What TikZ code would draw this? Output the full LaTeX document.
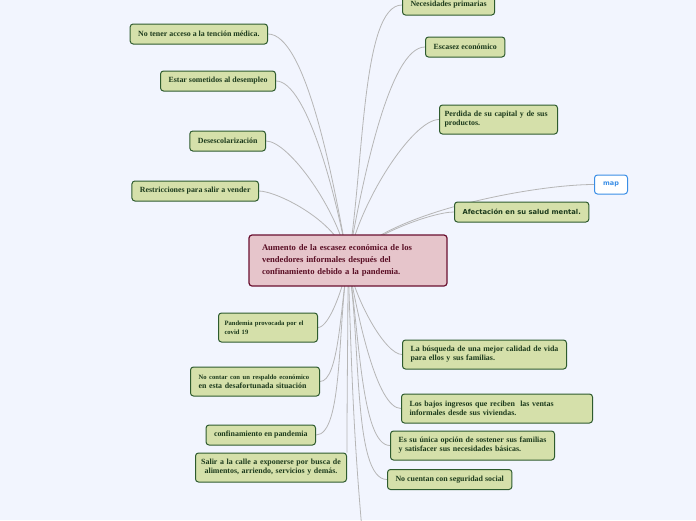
\documentclass[tikz,border=0pt]{standalone}
\usepackage{fontspec}
\setmainfont{Liberation Serif}
\newfontfamily\mmsans{DejaVu Sans}
\usetikzlibrary{backgrounds}

\definecolor{paper}{HTML}{F2F5FE}
\definecolor{leaffill}{HTML}{D5E0AA}
\definecolor{leafline}{HTML}{2E5B2E}
\definecolor{leaftext}{HTML}{1C3A1C}
\definecolor{rootfill}{HTML}{E6C5CB}
\definecolor{rootline}{HTML}{6A1030}
\definecolor{roottext}{HTML}{5A0F25}
\definecolor{linkgray}{HTML}{B6B6B6}
\definecolor{mapblue}{HTML}{3A8EE6}

\begin{document}
\begin{tikzpicture}[x=1pt, y=1pt,
        leaf/.style={rectangle, rounded corners=3pt, draw=leafline, fill=leaffill,
            line width=1pt, text=leaftext, font=\bfseries\fontsize{7.9}{9}\selectfont,
            inner xsep=8pt, inner ysep=2pt, minimum height=20pt, align=left},
        twoline/.style={minimum height=29pt},
        root/.style={rectangle, rounded corners=3pt, draw=rootline, fill=rootfill,
            line width=1.2pt, text=roottext, font=\bfseries\fontsize{8.6}{12}\selectfont,
            inner xsep=13pt, text width=172pt, minimum height=51pt, align=left},
        link/.style={draw=linkgray, line width=0.8pt},
        upleft/.style={out=100, in=0, out looseness=0.9, in looseness=0.4},
        upright/.style={out=80, in=180, out looseness=0.9, in looseness=0.4},
        downleft/.style={out=-100, in=0, out looseness=0.9, in looseness=0.4},
        downright/.style={out=-80, in=180, out looseness=0.9, in looseness=0.4},
    ]
    \useasboundingbox (0,0) rectangle (696,-520);
    \coordinate (hub) at (348,-262);
    \coordinate (below) at (362,-530);

    % central idea
    \node[root] (main) at (348,-260.5) {Aumento de la escasez económica de los\\
        vendedores informales después del\\ confinamiento debido a la pandemia.};

    % right side
    \node[leaf, anchor=west] (nec) at (402,-5) {Necesidades primarias};
    \node[leaf, anchor=west] (esc) at (425,-47) {Escasez económico};
    \node[leaf, twoline, anchor=west, text width=108pt, inner xsep=5pt] (per)
        at (439,-119.5) {Perdida de su capital y de sus\\ productos.};
    \node[rectangle, rounded corners=3pt, draw=mapblue, fill=white, line width=1pt,
        text=mapblue, font=\mmsans\bfseries\fontsize{6.5}{8}\selectfont,
        minimum width=33pt, minimum height=19pt, anchor=west] (map) at (594,-184.5) {map};
    \node[leaf, anchor=west, font=\mmsans\bfseries\fontsize{6.8}{8}\selectfont] (afe)
        at (454,-212) {Afectación en su salud mental.};
    \node[leaf, twoline, anchor=west, text width=148pt] (busq) at (402,-354.5)
        {La búsqueda de una mejor calidad de vida\\ para ellos y sus familias.};
    \node[leaf, twoline, anchor=west, text width=175pt] (bajos) at (401,-408.5)
        {Los bajos ingresos que reciben\ \ las ventas\\ informales desde sus viviendas.};
    \node[leaf, twoline, anchor=west, text width=148pt] (unica) at (390,-445.5)
        {Es su única opción de sostener sus familias\\ y satisfacer sus necesidades básicas.};
    \node[leaf, anchor=west] (seg) at (387,-479.5) {No cuentan con seguridad social};

    % left side
    \node[leaf, anchor=east] (tenc) at (268,-34) {No tener acceso a la tención médica.};
    \node[leaf, anchor=east] (desem) at (276,-81) {Estar sometidos al desempleo};
    \node[leaf, anchor=east] (deses) at (266,-141) {Desescolarización};
    \node[leaf, anchor=east] (restr) at (259,-191) {Restricciones para salir a vender};
    \node[leaf, twoline, anchor=east, text width=87pt, inner xsep=6pt,
        font=\bfseries\fontsize{6.6}{9}\selectfont] (pand) at (318,-327.5)
        {Pandemia provocada por el\\ covid 19};
    \node[leaf, twoline, anchor=east, text width=113pt] (resp) at (320,-381.5)
        {{\fontsize{6.6}{9}\selectfont No contar con un respaldo económico}\\
        en esta desafortunada situación};
    \node[leaf, anchor=east] (conf) at (316,-435) {confinamiento en pandemia};
    \node[leaf, twoline, anchor=east, text width=143pt, inner xsep=4pt, align=center]
        (salir) at (347,-467.5) {Salir a la calle a exponerse por busca de\\
        alimentos, arriendo, servicios y demás.};

    \begin{scope}[on background layer]
        \fill[paper] (0,0) rectangle (696,-520);
        \draw[link] (hub) to[upright] (nec.west);
        \draw[link] (hub) to[upright] (esc.west);
        \draw[link] (hub) to[upright] (per.west);
        \draw[link] (hub) to[out=60, in=180, out looseness=0.6, in looseness=0.5] (afe.west);
        \draw[link] (hub) to[out=55, in=180, out looseness=0.6, in looseness=0.6] (map.west);
        \draw[link] (hub) to[downright] (busq.west);
        \draw[link] (hub) to[downright] (bajos.west);
        \draw[link] (hub) to[downright] (unica.west);
        \draw[link] (hub) to[downright] (seg.west);
        \draw[link] (hub) to[upleft] (tenc.east);
        \draw[link] (hub) to[upleft] (desem.east);
        \draw[link] (hub) to[upleft] (deses.east);
        \draw[link] (hub) to[upleft] (restr.east);
        \draw[link] (hub) to[downleft] (pand.east);
        \draw[link] (hub) to[downleft] (resp.east);
        \draw[link] (hub) to[downleft] (conf.east);
        \draw[link] (hub) to[out=-90, in=90] (salir.north east);
        \draw[link] (hub) to[out=-88, in=95] (below);
    \end{scope}
\end{tikzpicture}
\end{document}
